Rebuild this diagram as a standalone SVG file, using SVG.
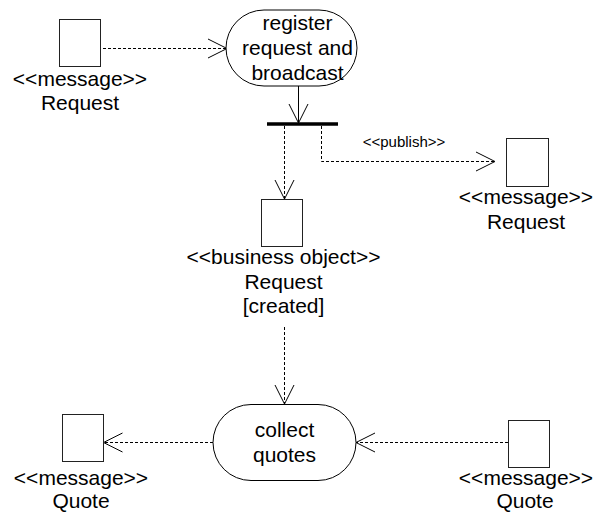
<svg xmlns="http://www.w3.org/2000/svg" width="594" height="516" viewBox="0 0 594 516">
<defs>
<style>
.obj{fill:#fff;stroke:#222;stroke-width:1}
.act{fill:#fff;stroke:#000;stroke-width:1}
.t{font-family:"Liberation Sans",Arial,sans-serif;font-size:21px;fill:#000;text-anchor:middle}
.s{font-family:"Liberation Sans",Arial,sans-serif;font-size:15px;fill:#000;text-anchor:middle}
.dash{fill:none;stroke:#000;stroke-width:1;stroke-dasharray:3,2}
.solid{fill:none;stroke:#000;stroke-width:1}
</style>
<marker id="arr" markerUnits="userSpaceOnUse" markerWidth="22" markerHeight="22" refX="19" refY="10" orient="auto" overflow="visible">
<path d="M0,0.5 L19,10 L0,19.5" fill="none" stroke="#000" stroke-width="1" stroke-dasharray="none"/>
</marker>
</defs>
<rect width="594" height="516" fill="#fff"/>
<g id="connectors">
<path class="dash" d="M103,48.5 H227" marker-end="url(#arr)"/>
<path class="solid" d="M298.5,86 V123" marker-end="url(#arr)"/>
<path class="dash" d="M284.5,126 V199" marker-end="url(#arr)"/>
<path class="dash" d="M321.5,126 V161.5 H495" marker-end="url(#arr)"/>
<text class="s" x="404" y="147">&lt;&lt;publish&gt;&gt;</text>
<path class="dash" d="M284.5,327 V404" marker-end="url(#arr)"/>
<path class="dash" d="M213,442.5 H103.5" marker-end="url(#arr)"/>
<path class="dash" d="M508,442.5 H356" marker-end="url(#arr)"/>
</g>
<g id="msg-request-in">
<rect class="obj" x="59.5" y="19.5" width="41" height="47"/>
<text class="t" x="80" y="86">&lt;&lt;message&gt;&gt;</text>
<text class="t" x="80" y="110">Request</text>
</g>
<g id="register">
<rect class="act" x="226" y="10" width="131" height="76" rx="38" ry="38"/>
<text class="t" x="297.5" y="30">register</text>
<text class="t" x="297.5" y="55">request and</text>
<text class="t" x="297.5" y="80">broadcast</text>
</g>
<g id="fork">
<line x1="267" y1="124" x2="338" y2="124" stroke="#000" stroke-width="3.5"/>
</g>
<g id="msg-request-out">
<rect class="obj" x="506.5" y="138.5" width="42" height="48"/>
<text class="t" x="526" y="204">&lt;&lt;message&gt;&gt;</text>
<text class="t" x="526" y="229">Request</text>
</g>
<g id="bo-request">
<rect class="obj" x="261.5" y="199.5" width="41" height="47"/>
<text class="t" x="283.5" y="264">&lt;&lt;business object&gt;&gt;</text>
<text class="t" x="283.5" y="289">Request</text>
<text class="t" x="283.5" y="313">[created]</text>
</g>
<g id="collect">
<rect class="act" x="213" y="404.5" width="143" height="76" rx="38" ry="38"/>
<text class="t" x="284.5" y="437">collect</text>
<text class="t" x="284.5" y="462">quotes</text>
</g>
<g id="msg-quote-out">
<rect class="obj" x="62.5" y="414.5" width="41" height="47"/>
<text class="t" x="81" y="485">&lt;&lt;message&gt;&gt;</text>
<text class="t" x="81" y="508">Quote</text>
</g>
<g id="msg-quote-in">
<rect class="obj" x="508.5" y="420.5" width="41" height="47"/>
<text class="t" x="526" y="485">&lt;&lt;message&gt;&gt;</text>
<text class="t" x="525" y="508">Quote</text>
</g>
</svg>
